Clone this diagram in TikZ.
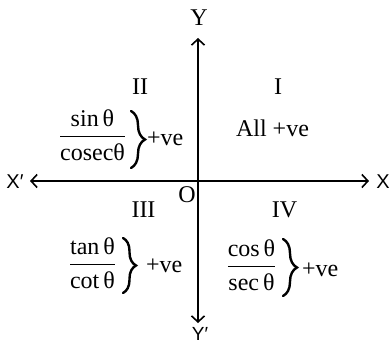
\documentclass[tikz,border=0pt]{standalone}
\usepackage{amsmath}
\usepackage{fontspec}
\setmainfont{Liberation Serif}
\setsansfont{Liberation Sans}
\usetikzlibrary{arrows.meta,decorations.pathreplacing}
\begin{document}
\begin{tikzpicture}[x=1pt,y=-1pt,
  lbl/.style={font=\fontsize{24}{28}\selectfont, inner sep=0pt},
  frac/.style={font=\fontsize{24}{28}\selectfont, inner sep=0pt, anchor=base},
  pv/.style={font=\fontsize{24}{28}\selectfont, inner sep=0pt, anchor=base west},
  slbl/.style={font=\sffamily\fontsize{20}{24}\selectfont, inner sep=0pt},
  cbrace/.style={line width=2.4pt, line cap=round, decorate, decoration={brace, amplitude=#1}},
  axis/.style={line width=1.3pt, {Straight Barb[length=6pt,width=13pt,line width=1.6pt]}-{Straight Barb[length=6pt,width=13pt,line width=1.6pt]}}]
\useasboundingbox (0,0) rectangle (391,345);
\coordinate (yt) at (198,38);
\coordinate (yb) at (198,323);
\coordinate (xl) at (30,181);
\coordinate (xr) at (369,181);
\draw[axis] (yb) -- (yt);
\draw[axis] (xl) -- (xr);
\node[lbl] (Y) at (199,18) {Y};
\node[slbl, font=\sffamily\fontsize{19}{22}\selectfont] (Yp) at (200,334) {Y′};
\node[slbl] (Xp) at (15,182) {X′};
\node[slbl] (X) at (383,182) {X};
\node[lbl] (O) at (187,194.5) {O};
% quadrant II
\node[lbl] (q2) at (140,86.5) {II};
\node[frac] (f2) at (92.5,143) {$\dfrac{\text{sin\,θ}}{\text{cosecθ}}$};
\coordinate (b2t) at (131,111);
\coordinate (b2b) at (131,168);
\draw[cbrace=14pt] (b2t) -- (b2b);
\node[pv] (p2) at (147,145) {+ve};
% quadrant I
\node[lbl] (q1) at (278,86.5) {I};
\node[lbl, anchor=base] (a1) at (272.5,136) {All +ve};
% quadrant III
\node[lbl] (q3) at (143.5,210) {III};
\node[frac] (f3) at (92.5,271) {$\dfrac{\text{tan\,θ}}{\text{cot\,θ}}$};
\coordinate (b3t) at (123,238);
\coordinate (b3b) at (123,293);
\draw[cbrace=13pt] (b3t) -- (b3b);
\node[pv] (p3) at (146,272) {+ve};
% quadrant IV
\node[lbl] (q4) at (284.5,210) {IV};
\node[frac] (f4) at (251.5,273) {$\dfrac{\text{cos\,θ}}{\text{sec\,θ}}$};
\coordinate (b4t) at (283,239);
\coordinate (b4b) at (283,296);
\draw[cbrace=14pt] (b4t) -- (b4b);
\node[pv] (p4) at (302,276) {+ve};
\end{tikzpicture}
\end{document}
